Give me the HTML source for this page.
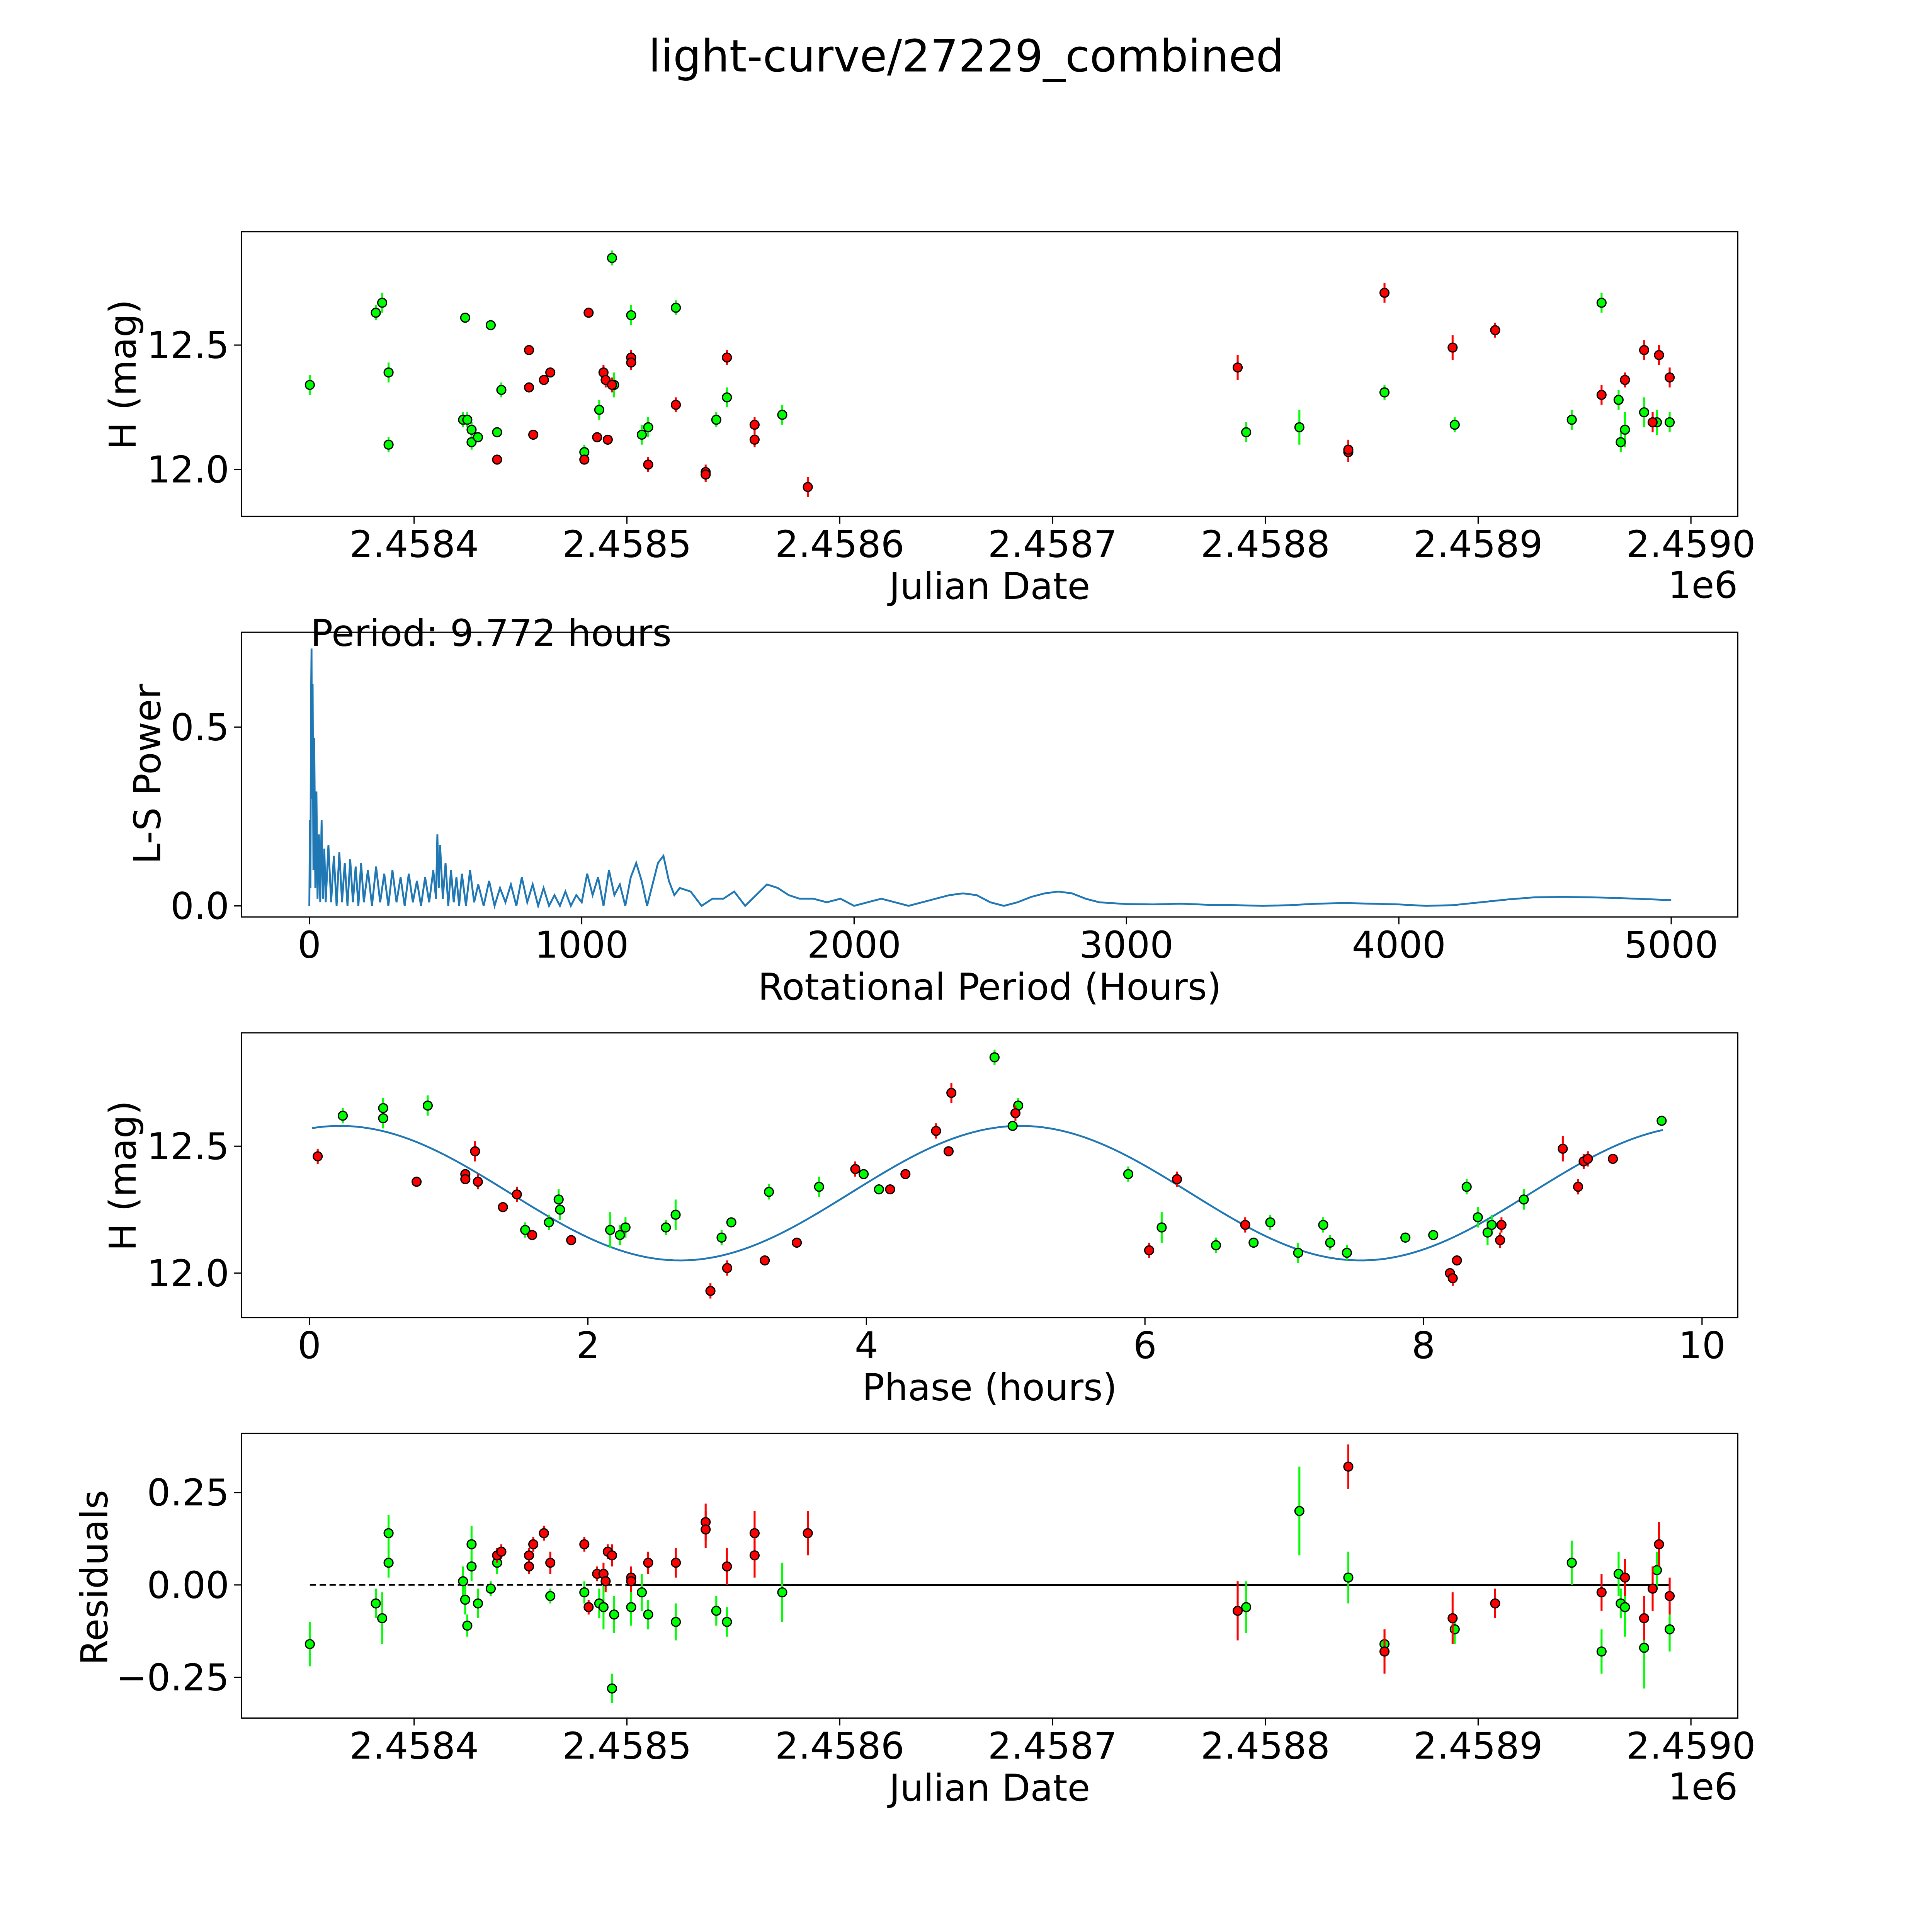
<!DOCTYPE html>
<html><head><meta charset="utf-8"><style>
html,body{margin:0;padding:0;background:#fff;overflow:hidden;}
svg{display:block;font-family:"DejaVu Sans","Liberation Sans",sans-serif;}
</style></head><body>
<svg id="fig" xmlns="http://www.w3.org/2000/svg" width="5400" height="5400" viewBox="0 0 1693 1693">
<rect width="1693" height="1693" fill="#fff"/>
<text x="784" y="58" font-size="36" text-anchor="middle">light-curve/27229_combined</text>
<g id="layer"></g>
</svg>
<script>
// ---- Panel 1 / 4 data (Julian Date) ----
const g1JD=[2458351,2458382,2458385,2458388,2458388,2458423,2458424,2458425,2458427,2458427,2458430,2458436,2458439,2458441,2458480,2458487,2458493,2458494,2458502,2458507,2458510,2458523,2458542,2458547,2458573,2458791,2458816,2458856,2458889,2458944,2458958,2458966,2458967,2458969,2458978,2458984,2458990];
const g1Mag=[12.34,12.63,12.67,12.39,12.10,12.20,12.61,12.20,12.11,12.16,12.13,12.58,12.15,12.32,12.07,12.24,12.85,12.34,12.62,12.14,12.17,12.65,12.20,12.29,12.22,12.15,12.17,12.31,12.18,12.20,12.67,12.28,12.11,12.16,12.23,12.19,12.19];
const g1Err=[0.04,0.03,0.04,0.04,0.03,0.03,0.02,0.03,0.03,0.03,0.02,0.02,0.02,0.03,0.03,0.04,0.03,0.05,0.04,0.04,0.04,0.03,0.03,0.04,0.04,0.04,0.07,0.03,0.03,0.04,0.04,0.04,0.04,0.07,0.06,0.05,0.04];
const r1JD=[2458439,2458454,2458454,2458456,2458461,2458464,2458480,2458482,2458486,2458489,2458490,2458491,2458493,2458502,2458502,2458510,2458523,2458537,2458537,2458547,2458560,2458560,2458585,2458787,2458839,2458839,2458856,2458888,2458908,2458958,2458969,2458978,2458982,2458985,2458990];
const r1Mag=[12.04,12.48,12.33,12.14,12.36,12.39,12.04,12.63,12.13,12.39,12.36,12.12,12.34,12.45,12.43,12.02,12.26,11.99,11.98,12.45,12.18,12.12,11.93,12.41,12.07,12.08,12.71,12.49,12.56,12.30,12.36,12.48,12.19,12.46,12.37];
const r1Err=[0.02,0.01,0.02,0.02,0.02,0.02,0.02,0.02,0.02,0.03,0.03,0.02,0.03,0.03,0.03,0.03,0.03,0.03,0.03,0.03,0.03,0.03,0.04,0.05,0.04,0.04,0.04,0.05,0.03,0.04,0.03,0.04,0.04,0.04,0.04];
// ---- Panel 2 periodogram ----
const lsPeriod=[0,2,4,6,8,10,12,15,18,22,26,30,35,40,45,50,55,60,70,80,90,100,110,120,130,140,150,160,170,180,190,200,215,230,245,260,275,290,305,320,335,350,365,380,395,410,425,440,455,465,470,475,480,490,500,510,520,530,540,550,560,575,590,605,620,640,660,680,700,720,740,760,780,800,820,840,860,880,900,920,940,960,980,1000,1020,1040,1060,1080,1100,1120,1140,1160,1180,1200,1220,1240,1260,1280,1300,1320,1340,1360,1400,1440,1480,1520,1560,1600,1640,1680,1720,1760,1800,1850,1900,1950,2000,2050,2100,2150,2200,2250,2300,2350,2400,2450,2500,2550,2600,2650,2700,2750,2800,2850,2900,3000,3100,3200,3300,3400,3500,3600,3700,3800,3900,4000,4100,4200,4300,4400,4500,4600,4700,4800,4900,5000];
const lsPower=[0,0.24,0.05,0.55,0.72,0.3,0.62,0.1,0.47,0.05,0.32,0.02,0.2,0.01,0.24,0.02,0.16,0.01,0.17,0.01,0.14,0,0.15,0.01,0.12,0,0.13,0.01,0.11,0,0.12,0.01,0.1,0,0.11,0.01,0.09,0,0.1,0.01,0.08,0,0.09,0.01,0.07,0,0.08,0.01,0.1,0.02,0.2,0.05,0.17,0.02,0.12,0,0.1,0.01,0.08,0,0.09,0,0.1,0.01,0.06,0,0.07,0,0.05,0.01,0.06,0,0.08,0.01,0.06,0,0.05,0,0.03,0,0.04,0,0.03,0.01,0.09,0.03,0.08,0,0.1,0.03,0.06,0,0.08,0.12,0.07,0,0.06,0.12,0.14,0.07,0.03,0.05,0.04,0,0.02,0.02,0.04,0,0.03,0.06,0.05,0.03,0.02,0.02,0.01,0.02,0,0.01,0.02,0.01,0,0.01,0.02,0.03,0.035,0.03,0.01,0,0.01,0.025,0.035,0.04,0.035,0.02,0.01,0.005,0.004,0.006,0.003,0.002,0,0.002,0.006,0.008,0.006,0.004,0,0.002,0.01,0.018,0.024,0.025,0.024,0.022,0.019,0.016];
const bestPeriodLabel="Period: 9.772 hours";
// ---- Panel 3 phase-folded ----
const g3Phase=[0.24,0.53,0.53,0.85,1.55,1.72,1.79,1.80,2.16,2.23,2.27,2.56,2.63,2.96,3.03,3.30,3.66,3.98,4.09,4.92,5.05,5.09,5.88,6.12,6.51,6.78,6.90,7.10,7.28,7.33,7.45,7.87,8.07,8.31,8.39,8.46,8.49,8.72,9.71];
const g3Mag=[12.62,12.65,12.61,12.66,12.17,12.20,12.29,12.25,12.17,12.15,12.18,12.18,12.23,12.14,12.20,12.32,12.34,12.39,12.33,12.85,12.58,12.66,12.39,12.18,12.11,12.12,12.20,12.08,12.19,12.12,12.08,12.14,12.15,12.34,12.22,12.16,12.19,12.29,12.60];
const g3Err=[0.03,0.04,0.04,0.04,0.03,0.03,0.04,0.04,0.07,0.04,0.04,0.03,0.06,0.03,0.02,0.03,0.04,0.02,0.02,0.03,0.02,0.03,0.03,0.06,0.03,0.02,0.03,0.04,0.03,0.03,0.03,0.02,0.02,0.03,0.04,0.05,0.04,0.04,0.02];
const r3Phase=[0.06,0.77,1.12,1.12,1.19,1.21,1.39,1.49,1.60,1.88,2.88,3.00,3.27,3.50,3.92,4.17,4.28,4.50,4.59,4.61,5.07,6.03,6.23,6.72,8.19,8.21,8.24,8.55,8.56,9.00,9.11,9.15,9.18,9.36];
const r3Mag=[12.46,12.36,12.39,12.37,12.48,12.36,12.26,12.31,12.15,12.13,11.93,12.02,12.05,12.12,12.41,12.33,12.39,12.56,12.48,12.71,12.63,12.09,12.37,12.19,12.00,11.98,12.05,12.13,12.19,12.49,12.34,12.44,12.45,12.45];
const r3Err=[0.03,0.02,0.02,0.02,0.04,0.03,0.02,0.03,0.02,0.01,0.03,0.03,0.01,0.02,0.03,0.01,0.01,0.03,0.01,0.04,0.03,0.03,0.03,0.03,0.02,0.03,0.02,0.03,0.03,0.05,0.03,0.03,0.03,0.02];
const modelMean=12.315, modelAmp=0.265, modelPhase0=0.22, modelHalfPeriod=4.886;
// ---- Panel 4 residuals ----
const g4JD=[2458351,2458382,2458385,2458388,2458388,2458423,2458424,2458425,2458427,2458427,2458430,2458436,2458439,2458464,2458480,2458487,2458489,2458493,2458494,2458502,2458507,2458510,2458523,2458542,2458547,2458573,2458791,2458816,2458839,2458856,2458889,2458944,2458958,2458966,2458967,2458969,2458978,2458984,2458990];
const g4Res=[-0.16,-0.05,-0.09,0.14,0.06,0.01,-0.04,-0.11,0.05,0.11,-0.05,-0.01,0.06,-0.03,-0.02,-0.05,-0.06,-0.28,-0.08,-0.06,-0.02,-0.08,-0.10,-0.07,-0.10,-0.02,-0.06,0.20,0.02,-0.16,-0.12,0.06,-0.18,0.03,-0.05,-0.06,-0.17,0.04,-0.12];
const g4Err=[0.06,0.04,0.07,0.05,0.04,0.04,0.04,0.03,0.04,0.05,0.04,0.02,0.03,0.02,0.03,0.04,0.06,0.04,0.05,0.05,0.05,0.04,0.05,0.04,0.04,0.08,0.07,0.12,0.07,0.04,0.04,0.06,0.06,0.06,0.04,0.08,0.11,0.05,0.06];
const r4JD=[2458439,2458441,2458454,2458454,2458456,2458461,2458464,2458480,2458482,2458486,2458489,2458490,2458491,2458493,2458502,2458502,2458510,2458523,2458537,2458537,2458547,2458560,2458560,2458585,2458787,2458839,2458856,2458888,2458908,2458958,2458969,2458978,2458982,2458985,2458990];
const r4Res=[0.08,0.09,0.05,0.08,0.11,0.14,0.06,0.11,-0.06,0.03,0.03,0.01,0.09,0.08,0.02,0.01,0.06,0.06,0.17,0.15,0.05,0.14,0.08,0.14,-0.07,0.32,-0.18,-0.09,-0.05,-0.02,0.02,-0.09,-0.01,0.11,-0.03];
const r4Err=[0.02,0.02,0.02,0.02,0.02,0.02,0.03,0.02,0.02,0.02,0.03,0.03,0.02,0.03,0.03,0.03,0.03,0.04,0.05,0.05,0.05,0.06,0.06,0.06,0.08,0.06,0.06,0.07,0.04,0.05,0.05,0.06,0.06,0.06,0.05];

const NS="http://www.w3.org/2000/svg";
const layer=document.getElementById('layer');
function mk(tag,attrs,parent){const e=document.createElementNS(NS,tag);for(const k in attrs)e.setAttribute(k,attrs[k]);(parent||layer).appendChild(e);return e;}
function lin(d0,d1,p0,p1){return v=>p0+(v-d0)*(p1-p0)/(d1-d0);}

const L=196,R=1410,FS=30;
function frame(top,bottom,name){
  const r=mk('rect',{x:L,y:top,width:R-L,height:bottom-top,fill:'none',stroke:'#000','stroke-width':1});
  
  
}
function xticks(vals,labels,xs,bottom,name){
  const g=mk('g',{});
  
  
  vals.forEach((v,i)=>{const x=xs(v);mk('line',{x1:x,x2:x,y1:bottom,y2:bottom+6,stroke:'#000','stroke-width':1},g);
    const t=mk('text',{x:x,y:bottom+33,'font-size':FS,'text-anchor':'middle'},g);t.textContent=labels[i];});
}
function yticks(vals,labels,ys,name){
  const g=mk('g',{});
  
  
  vals.forEach((v,i)=>{const y=ys(v);mk('line',{x1:L-6,x2:L,y1:y,y2:y,stroke:'#000','stroke-width':1},g);
    const t=mk('text',{x:L-10,y:y+10.5,'font-size':FS,'text-anchor':'end'},g);t.textContent=labels[i];});
}
function label(txt,x,y,rot,name){
  const t=mk('text',{x:x,y:y,'font-size':FS,'text-anchor':'middle'});
  if(rot)t.setAttribute('transform','rotate(-90 '+x+' '+y+')');
  t.textContent=txt;
  
  
}
function points(xsArr,ysArr,errArr,xs,ys,col,name){
  const g=mk('g',{});
  
  
  xsArr.forEach((v,i)=>{const x=xs(v);const y1=ys(ysArr[i]-errArr[i]),y2=ys(ysArr[i]+errArr[i]);
    mk('line',{x1:x,x2:x,y1:y1,y2:y2,stroke:col,'stroke-width':1.6},g);});
  xsArr.forEach((v,i)=>{const c=mk('circle',{cx:xs(v),cy:ys(ysArr[i]),r:3.6,fill:col,stroke:'#000','stroke-width':1},g);
    
    });
}
const jdTicks=[2458400,2458500,2458600,2458700,2458800,2458900,2459000];
const jdLabels=['2.4584','2.4585','2.4586','2.4587','2.4588','2.4589','2.4590'];
const xJD=lin(2458400,2459000,336,1372);

// Panel 1
{const top=188,bot=419;const ys=lin(12.5,12.0,280,381);
 frame(top,bot,'lightcurve-axes');
 xticks(jdTicks,jdLabels,xJD,bot,'lightcurve-x-ticks');
 yticks([12.0,12.5],['12.0','12.5'],ys,'lightcurve-y-ticks');
 label('Julian Date',803,486,false,'lightcurve-x-title');
 label('H (mag)',110,304,true,'lightcurve-y-title');
 const o=mk('text',{x:1410,y:485,'font-size':FS,'text-anchor':'end'});o.textContent='1e6';
 
 points(g1JD,g1Mag,g1Err,xJD,ys,'#00ff00','green-series');
 points(r1JD,r1Mag,r1Err,xJD,ys,'#ff0000','red-series');}

// Panel 2
{const top=513,bot=744;const xs=lin(0,5000,251,1356),ys=lin(0,0.5,735,590);
 frame(top,bot,'periodogram-axes');
 xticks([0,1000,2000,3000,4000,5000],['0','1000','2000','3000','4000','5000'],xs,bot,'periodogram-x-ticks');
 yticks([0,0.5],['0.0','0.5'],ys,'periodogram-y-ticks');
 label('Rotational Period (Hours)',803,811,false,'periodogram-x-title');
 label('L-S Power',130,628,true,'periodogram-y-title');
 const pts=lsPeriod.map((p,i)=>xs(p).toFixed(2)+','+ys(lsPower[i]).toFixed(2)).join(' ');
 const pl=mk('polyline',{points:pts,fill:'none',stroke:'#1f77b4','stroke-width':1.5});
 
 const t=mk('text',{x:252,y:524,'font-size':FS});t.textContent=bestPeriodLabel;
 }

// Panel 3
{const top=838,bot=1069;const xs=lin(0,10,251,1381),ys=lin(12.5,12.0,930,1033);
 frame(top,bot,'phase-axes');
 xticks([0,2,4,6,8,10],['0','2','4','6','8','10'],xs,bot,'phase-x-ticks');
 yticks([12.0,12.5],['12.0','12.5'],ys,'phase-y-ticks');
 label('Phase (hours)',803,1136,false,'phase-x-title');
 label('H (mag)',110,954,true,'phase-y-title');
 let pts=[];for(let p=0.02;p<=9.75;p+=0.05){const m=modelMean+modelAmp*Math.cos(2*Math.PI*(p-modelPhase0)/modelHalfPeriod);pts.push(xs(p).toFixed(2)+','+ys(m).toFixed(2));}
 const pl=mk('polyline',{points:pts.join(' '),fill:'none',stroke:'#1f77b4','stroke-width':1.5});
 
 points(g3Phase,g3Mag,g3Err,xs,ys,'#00ff00','green-phase-series');
 points(r3Phase,r3Mag,r3Err,xs,ys,'#ff0000','red-phase-series');}

// Panel 4
{const top=1163,bot=1394;const ys=lin(0,0.25,1286,1211);
 frame(top,bot,'residuals-axes');
 xticks(jdTicks,jdLabels,xJD,bot,'residuals-x-ticks');
 yticks([-0.25,0,0.25],['\u22120.25','0.00','0.25'],ys,'residuals-y-ticks');
 label('Julian Date',803,1461,false,'residuals-x-title');
 label('Residuals',87,1280,true,'residuals-y-title');
 const o=mk('text',{x:1410,y:1460,'font-size':FS,'text-anchor':'end'});o.textContent='1e6';
 
 const d=mk('line',{x1:xJD(2458351),x2:xJD(2458500),y1:ys(0),y2:ys(0),stroke:'#000','stroke-width':1.2,'stroke-dasharray':'5,3'});
 
 const s=mk('line',{x1:xJD(2458500),x2:xJD(2458990),y1:ys(0),y2:ys(0),stroke:'#000','stroke-width':1.5});
 
 points(g4JD,g4Res,g4Err,xJD,ys,'#00ff00','green-residuals');
 points(r4JD,r4Res,r4Err,xJD,ys,'#ff0000','red-residuals');}
</script>
</body></html>
